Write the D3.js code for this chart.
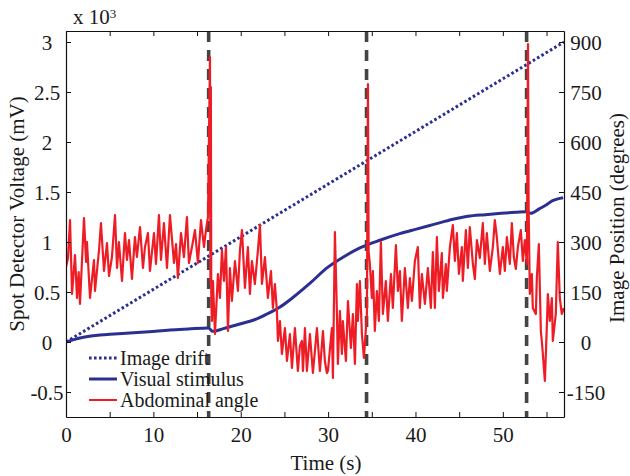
<!DOCTYPE html>
<html>
<head>
<meta charset="utf-8">
<script src="https://cdn.jsdelivr.net/npm/d3@7/dist/d3.min.js"></script>
<style>
  html, body { margin: 0; padding: 0; background: #fff; }
  svg { display: block; }
  svg text { font-family: "Liberation Serif", "Times New Roman", Times, "DejaVu Serif", serif; fill: #1a1a1a; }
</style>
</head>
<body>
<svg id="chart" width="630" height="476"></svg>
<script>
// ---------------- data ----------------
const xTicks = [0, 5, 10, 15, 20, 25, 30, 35, 40, 45, 50, 55];
const xLabels = [0, 10, 20, 30, 40, 50];
const leftTicks = [-0.5, 0, 0.5, 1, 1.5, 2, 2.5, 3];
const rightTicks = [-150, 0, 150, 300, 450, 600, 750, 900];
const eventTimes = [16.33, 34.40, 52.72];

// Image drift (degrees)
const driftT = [0, 57];
const driftV = [0, 900];

// Visual stimulus (degrees)
const stimT = [0, 1.0, 2.0, 3.9, 5.5, 7.3, 9.5, 11.9, 14.0, 16.3, 16.8, 18.0, 19.9, 21.5, 23.0, 24.5, 25.9, 28.0, 29.9, 31.8, 33.7, 36.0, 38.2, 40.0, 42.0, 44.3, 46.0, 48.0, 49.8, 51.5, 52.7, 53.2, 54.2, 55.0, 55.7, 56.9];
const stimV = [0, 8, 14, 21, 24, 27, 31, 36, 39, 42, 32, 40, 54, 66, 84, 105, 132, 178, 223, 256, 283, 306, 325, 338, 352, 368, 377, 382, 386, 389, 391, 386, 400, 412, 424, 433];

// Abdominal angle (spot detector voltage, x10^3 mV)
const abdT = [0, 0.23, 0.46, 0.69, 1.03, 1.26, 1.45, 1.60, 2.06, 2.30, 2.40, 2.75, 3.20, 3.32, 3.78, 4.00, 4.35, 4.69, 4.92, 5.26, 5.61, 5.84, 6.06, 6.41, 6.75, 6.98, 7.21, 7.55, 7.89, 8.12, 8.47, 8.81, 9.04, 9.38, 9.61, 10.07, 10.30, 10.64, 10.87, 11.21, 11.56, 11.90, 12.36, 12.59, 12.81, 13.16, 13.50, 13.84, 14.07, 14.42, 14.76, 15.10, 15.45, 15.79, 16.02, 16.25,
  16.48, 16.53, 16.58, 16.63,
  16.70, 16.82, 17.05, 17.39, 17.62, 17.85, 18.08, 18.31, 18.54, 18.76, 18.99, 19.34, 19.68, 19.91, 20.14, 20.48, 20.82, 21.05, 21.28, 21.62, 21.97, 22.20, 22.43, 22.77, 23.11, 23.46, 23.68, 23.91, 24.14, 24.26, 24.49, 24.71, 25.06, 25.29, 25.63, 25.86, 26.20, 26.54, 26.77, 27.00, 27.12, 27.35, 27.57, 27.92, 28.26, 28.49, 28.72, 29.06, 29.41, 29.63, 29.86, 29.98, 30.43, 30.55, 30.78, 31.01, 31.12, 31.35, 31.58, 31.69, 32.04, 32.27, 32.61, 32.84, 33.07, 33.30, 33.41, 33.64, 33.87, 34.10, 34.44,
  34.56, 34.64,
  34.78, 35.01, 35.13, 35.35, 35.58, 35.81, 36.04, 36.27, 36.61, 36.84, 37.19, 37.41, 37.76, 37.99, 38.22, 38.44, 38.79, 39.13, 39.36, 39.59, 39.93, 40.27, 40.50, 40.73, 41.08, 41.42, 41.76, 41.99, 42.22, 42.45, 42.68, 43.02, 43.14, 43.48, 43.59, 43.94, 44.28, 44.51, 44.74, 44.97, 45.31, 45.42, 45.77, 46.00, 46.22, 46.57, 46.80, 47.03, 47.37, 47.71, 47.94, 48.17, 48.51, 48.86, 49.08, 49.31, 49.66, 50.00, 50.23, 50.46, 50.80, 51.03, 51.26, 51.49, 51.72, 52.06, 52.29, 52.52, 52.75,
  52.88, 52.95,
  53.09, 53.32, 53.43, 53.78, 53.89, 54.12, 54.35, 54.46, 54.58, 54.81, 55.03, 55.15, 55.38, 55.61, 55.72, 56.06, 56.29, 56.52, 56.75, 56.98];
const abdV = [0.75, 0.84, 1.22, 0.48, 0.87, 0.44, 0.70, 0.38, 1.24, 0.80, 1.00, 0.44, 0.82, 0.51, 0.92, 1.19, 0.71, 0.99, 0.66, 0.85, 1.27, 0.74, 1.00, 0.61, 1.09, 0.82, 1.02, 0.63, 1.05, 0.85, 1.15, 0.74, 0.95, 1.09, 0.71, 1.09, 0.78, 1.27, 0.82, 1.19, 0.74, 1.27, 0.79, 0.98, 0.64, 1.09, 0.85, 1.25, 0.79, 0.95, 1.12, 0.79, 1.22, 0.95, 1.12, 1.25,
  2.85, 0.60, 2.55, 0.40,
  0.21, 0.61, 0.08, 0.68, 0.44, 0.92, 0.61, 0.95, 0.11, 0.74, 0.41, 0.81, 0.51, 0.92, 1.12, 0.54, 0.95, 0.48, 0.81, 0.58, 0.92, 1.17, 0.58, 0.85, 0.44, 0.71, 0.34, 0.58, 0.31, 0.01, 0.21, -0.12, 0.14, -0.19, 0.08, -0.26, 0.14, -0.29, -0.04, 0.01, -0.29, 0.14, -0.29, 0.08, -0.31, -0.09, 0.14, -0.29, 0.11, -0.19, -0.31, -0.29, 0.14, -0.36, 1.10, 0.28, -0.22, 0.31, -0.12, 0.21, -0.19, 0.41, -0.06, 0.28, -0.22, 0.58, 0.21, 0.61, 0.08, -0.16, 0.28,
  2.58, 0.90,
  0.78, 0.44, 0.71, 0.11, 0.51, 0.21, 1.00, 0.28, 0.61, 0.21, 0.68, 0.34, 0.97, 0.51, 0.71, 0.21, 0.74, 0.34, 0.64, 0.41, 0.81, 0.95, 0.34, 0.68, 0.38, 0.74, 0.34, 0.90, 0.34, 1.05, 0.51, 0.89, 0.44, 0.78, 0.51, 0.95, 1.17, 0.81, 1.09, 0.68, 0.95, 0.61, 1.12, 0.74, 1.15, 0.78, 0.63, 1.02, 0.84, 1.19, 0.78, 1.09, 0.71, 0.95, 1.22, 1.05, 0.68, 0.95, 0.71, 1.05, 0.78, 1.19, 0.85, 0.73, 0.95, 1.12, 0.81, 1.02, 0.78,
  2.98, 1.35,
  0.48, 0.68, 0.34, 0.28, 0.64, 0.98, 0.11, 0.01, -0.12, -0.39, 0.14, 0.48, 0.21, 0.44, 0.01, 0.28, 1.00, 0.44, 0.28, 0.34];

// ---------------- chart ----------------
const FONT = "'Liberation Serif', 'Times New Roman', Times, 'DejaVu Serif', serif";
const svg = d3.select("#chart");
const L = 66, R = 564, T = 31, B = 417;
const x = d3.scaleLinear([0, 57], [L, R]);
const yL = d3.scaleLinear([-0.75, 3.11], [B, T]);
const yR = d3.scaleLinear([-225, 933], [B, T]);

const plot = svg.append("g");
plot.append("clipPath").attr("id", "clip")
  .append("rect").attr("x", L).attr("y", T).attr("width", R - L).attr("height", B - T);
const g = plot.append("g").attr("clip-path", "url(#clip)");

const navy = "#2b3090";
const red = "#ee1c25";

// drift (dotted)
g.append("path")
  .datum(driftT.map((t, i) => [t, driftV[i]]))
  .attr("fill", "none").attr("stroke", navy).attr("stroke-width", 3)
  .attr("stroke-dasharray", "2.6,2.4")
  .attr("d", d3.line().x(d => x(d[0])).y(d => yR(d[1])));

// visual stimulus (solid)
g.append("path")
  .datum(stimT.map((t, i) => [t, stimV[i]]))
  .attr("fill", "none").attr("stroke", navy).attr("stroke-width", 3)
  .attr("d", d3.line().curve(d3.curveMonotoneX).x(d => x(d[0])).y(d => yR(d[1])));

// event dashed lines
g.selectAll("line.ev").data(eventTimes).join("line")
  .attr("class", "ev")
  .attr("x1", d => x(d)).attr("x2", d => x(d))
  .attr("y1", T).attr("y2", B)
  .attr("stroke", "#444").attr("stroke-width", 3.6)
  .attr("stroke-dasharray", "11,8");

// abdominal angle
g.append("path")
  .datum(abdT.map((t, i) => [t, abdV[i]]))
  .attr("fill", "none").attr("stroke", red).attr("stroke-width", 2.2)
  .attr("stroke-linejoin", "round")
  .attr("d", d3.line().x(d => x(d[0])).y(d => yL(d[1])));

// ---------------- axes ----------------
const fmt = d => String(d);
const fs = 21;

const axB = svg.append("g").attr("transform", `translate(0,${B})`)
  .call(d3.axisBottom(x).tickValues(xTicks).tickSize(-5).tickSizeOuter(0)
    .tickFormat(d => xLabels.includes(d) ? fmt(d) : ""));
const axT = svg.append("g").attr("transform", `translate(0,${T})`)
  .call(d3.axisTop(x).tickValues(xTicks).tickSize(-5).tickSizeOuter(0).tickFormat(""));
const axL = svg.append("g").attr("transform", `translate(${L},0)`)
  .call(d3.axisLeft(yL).tickValues(leftTicks).tickSize(-5).tickSizeOuter(0).tickFormat(fmt));
const axR = svg.append("g").attr("transform", `translate(${R},0)`)
  .call(d3.axisRight(yR).tickValues(rightTicks).tickSize(-5).tickSizeOuter(0).tickFormat(fmt));

[axB, axT, axL, axR].forEach(a => {
  a.attr("font-family", FONT).attr("font-size", fs);
  a.selectAll(".domain").attr("stroke", "#111").attr("stroke-width", 1.2);
  a.selectAll(".tick line").attr("stroke", "#111").attr("stroke-width", 1);
  a.selectAll("text").attr("font-family", FONT).attr("font-size", fs).attr("fill", "#1a1a1a");
});
axB.selectAll(".tick text").attr("y", 25).attr("dy", 0);
axL.selectAll(".tick text").attr("x", -19).attr("dy", "0.36em").attr("text-anchor", "middle");
axR.selectAll(".tick text").attr("x", 22).attr("dy", "0.36em").attr("text-anchor", "middle");

// axis titles
svg.append("text").attr("x", 326).attr("y", 470).attr("text-anchor", "middle")
  .attr("font-family", FONT).attr("font-size", fs).text("Time (s)");
svg.append("text").attr("transform", "translate(24,214) rotate(-90)").attr("text-anchor", "middle")
  .attr("font-family", FONT).attr("font-size", fs).text("Spot Detector Voltage (mV)");
svg.append("text").attr("transform", "translate(624,218) rotate(-90)").attr("text-anchor", "middle")
  .attr("font-family", FONT).attr("font-size", fs).text("Image Position (degrees)");

// exponent
const ex = svg.append("text").attr("x", 73).attr("y", 24).attr("font-family", FONT).attr("font-size", fs);
ex.append("tspan").text("x 10");
ex.append("tspan").attr("font-size", 13).attr("dy", -6).text("3");

// ---------------- legend ----------------
const legendItems = ["Image drift", "Visual stimulus", "Abdominal angle"];
const legendStyle = [
  { color: navy, dash: "2.6,2.4", w: 3 },
  { color: navy, dash: null, w: 3 },
  { color: red, dash: null, w: 2 }
];
const lg = svg.append("g");
legendItems.forEach((name, i) => {
  const yy = 358 + i * 21;
  lg.append("line").attr("x1", 89).attr("x2", 117).attr("y1", yy).attr("y2", yy)
    .attr("stroke", legendStyle[i].color).attr("stroke-width", legendStyle[i].w)
    .attr("stroke-dasharray", legendStyle[i].dash);
  lg.append("text").attr("x", 120).attr("y", yy + 7).attr("font-family", FONT).attr("font-size", 20).text(name);
});
</script>
</body>
</html>
